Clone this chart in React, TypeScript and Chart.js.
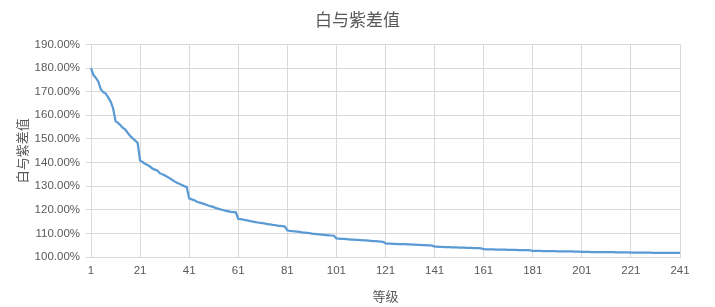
import React, { useEffect, useRef } from "react";
import { Chart, registerables } from "chart.js";

Chart.register(...registerables);

const TITLE = "白与紫差值";
const Y_TITLE = "白与紫差值";
const X_TITLE = "等级";

// values in percent, one block per 20 levels
const block1 = [180.0, 177.0, 175.8, 174.2, 171.0, 169.8, 169.2, 167.6, 165.8, 163.0, 157.5, 156.8, 155.8, 154.6, 153.9, 152.5, 151.2, 150.2, 149.3, 148.3];
const block2 = [140.8, 140.2, 139.5, 139.0, 138.3, 137.5, 137.0, 136.6, 135.5, 135.0, 134.6, 134.0, 133.4, 132.7, 132.0, 131.4, 131.0, 130.5, 130.0, 129.6];
const block3 = [124.8, 124.4, 124.1, 123.5, 123.1, 122.8, 122.5, 122.1, 121.7, 121.4, 121.1, 120.7, 120.4, 120.1, 119.8, 119.5, 119.3, 119.1, 119.0, 118.9];
const block4 = [116.2, 116.0, 115.8, 115.6, 115.4, 115.2, 115.0, 114.8, 114.6, 114.4, 114.3, 114.1, 113.9, 113.8, 113.6, 113.5, 113.3, 113.2, 113.1, 112.9];
const block5 = [111.3, 111.1, 111.0, 110.8, 110.7, 110.6, 110.4, 110.3, 110.2, 110.1, 109.9, 109.8, 109.7, 109.6, 109.5, 109.4, 109.3, 109.2, 109.1, 109.0];
const block6 = [107.9, 107.8, 107.7, 107.7, 107.6, 107.5, 107.4, 107.4, 107.3, 107.2, 107.1, 107.0, 107.0, 106.9, 106.8, 106.7, 106.7, 106.6, 106.5, 106.4];
const block7 = [105.8, 105.7, 105.7, 105.6, 105.6, 105.5, 105.5, 105.4, 105.4, 105.3, 105.3, 105.2, 105.2, 105.1, 105.1, 105.0, 105.0, 104.9, 104.9, 104.8];
const block8 = [104.4, 104.35, 104.3, 104.27, 104.23, 104.2, 104.16, 104.12, 104.08, 104.05, 104.0, 103.97, 103.93, 103.9, 103.86, 103.83, 103.8, 103.77, 103.73, 103.7];
const block9 = [103.3, 103.27, 103.25, 103.22, 103.2, 103.17, 103.14, 103.12, 103.09, 103.07, 103.04, 103.02, 103.0, 102.97, 102.95, 102.93, 102.9, 102.88, 102.86, 102.84];
const block10 = [102.6, 102.58, 102.57, 102.55, 102.53, 102.51, 102.5, 102.48, 102.46, 102.45, 102.43, 102.41, 102.4, 102.38, 102.37, 102.35, 102.34, 102.32, 102.31, 102.29];
const block11 = [102.15, 102.14, 102.13, 102.12, 102.11, 102.1, 102.09, 102.08, 102.07, 102.06, 102.05, 102.04, 102.03, 102.02, 102.01, 102.0, 101.99, 101.98, 101.97, 101.96];
const block12 = [101.86, 101.85, 101.84, 101.84, 101.83, 101.82, 101.81, 101.81, 101.8, 101.79, 101.78, 101.78, 101.77, 101.76, 101.75, 101.75, 101.74, 101.73, 101.72, 101.72, 101.7];

const values = [...block1, ...block2, ...block3, ...block4, ...block5, ...block6, ...block7, ...block8, ...block9, ...block10, ...block11, ...block12];
const levels = values.map((_, i) => String(i + 1));

const Y_MIN = 100;
const Y_MAX = 190;
const Y_STEP = 10;
const X_TICK_EVERY = 20;

export default function App() {
  const ref = useRef<HTMLCanvasElement | null>(null);
  useEffect(() => {
    document.body.style.margin = "0";
    const ctx = ref.current!.getContext("2d")!;
    const grey = "#595959";
    const gridColor = "#d9d9d9";
    const chart = new Chart(ctx, {
      type: "line",
      data: {
        labels: levels,
        datasets: [
          {
            data: values,
            borderColor: "#5b9bd5",
            borderWidth: 2.25,
            pointRadius: 0,
            tension: 0,
            fill: false,
          },
        ],
      },
      options: {
        responsive: false,
        animation: false,
        layout: { padding: 0 },
        plugins: {
          legend: { display: false },
          tooltip: { enabled: false },
          title: {
            display: true,
            text: TITLE,
            color: grey,
            font: { family: "'Noto Sans CJK SC', sans-serif", size: 17, weight: "normal" },
            padding: { top: 9, bottom: 15 },
          },
        },
        scales: {
          x: {
            type: "category",
            offset: false,
            grid: { color: gridColor, drawTicks: false },
            border: { color: gridColor },
            ticks: {
              autoSkip: false,
              maxRotation: 0,
              padding: 7,
              color: grey,
              font: { family: "'Liberation Sans', sans-serif", size: 11.5 },
              callback: (_v: any, i: number) => (i % X_TICK_EVERY === 0 ? levels[i] : null),
            },
            title: {
              display: true,
              text: X_TITLE,
              color: grey,
              font: { family: "'Noto Sans CJK SC', sans-serif", size: 13 },
              padding: { top: 0, bottom: 3 },
            },
            afterFit: (s: any) => {
              s.height = 50;
            },
          },
          y: {
            min: Y_MIN,
            max: Y_MAX,
            grid: { color: gridColor, tickLength: 5 },
            border: { color: gridColor },
            ticks: {
              stepSize: Y_STEP,
              padding: 6,
              color: grey,
              font: { family: "'Liberation Sans', sans-serif", size: 11.5 },
              callback: (v: any) => Number(v).toFixed(2) + "%",
            },
            title: {
              display: true,
              text: Y_TITLE,
              color: grey,
              font: { family: "'Noto Sans CJK SC', sans-serif", size: 13 },
              padding: { top: 14, bottom: 0 },
            },
            afterFit: (s: any) => {
              s.width = 91;
            },
          },
          yRightSpace: {
            type: "linear",
            position: "right",
            display: true,
            grid: { display: false, drawOnChartArea: false, drawTicks: false },
            border: { display: false },
            ticks: { display: false },
            afterFit: (s: any) => {
              s.width = 35;
            },
          },
        },
      },
    });
    return () => chart.destroy();
  }, []);
  return (
    <div style={{ position: "absolute", left: 0, top: 0, width: 715, height: 307, background: "#fff" }}>
      <canvas ref={ref} width={715} height={307} />
    </div>
  );
}
